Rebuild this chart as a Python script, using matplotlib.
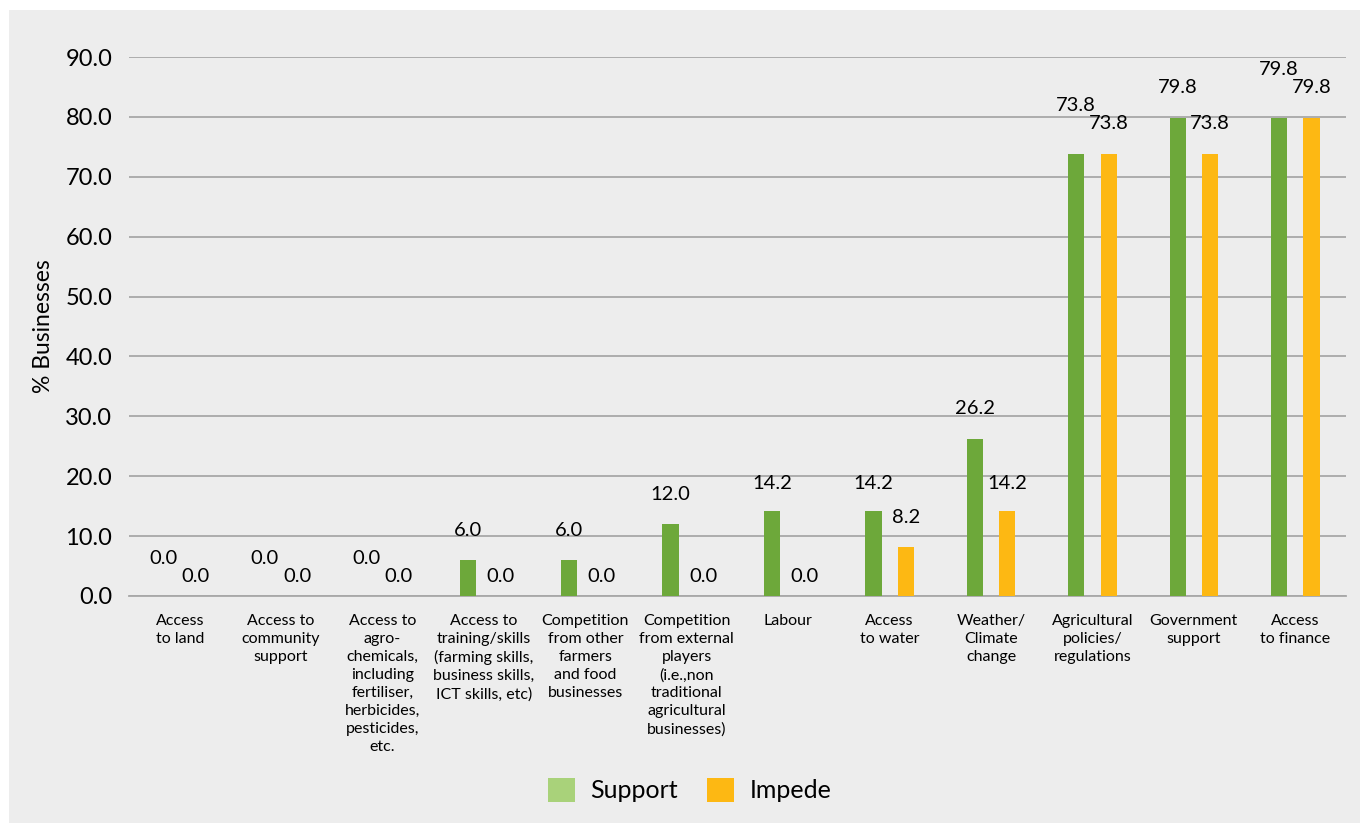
import matplotlib

matplotlib.use("Agg")
import matplotlib.pyplot as plt
import numpy as np
from matplotlib.patches import Patch, Rectangle

categories = [
    "Access\nto land",
    "Access to\ncommunity\nsupport",
    "Access to\nagro-\nchemicals,\nincluding\nfertiliser,\nherbicides,\npesticides,\netc.",
    "Access to\ntraining/skills\n(farming skills,\nbusiness skills,\nICT skills, etc)",
    "Competition\nfrom other\nfarmers\nand food\nbusinesses",
    "Competition\nfrom external\nplayers\n(i.e.,non\ntraditional\nagricultural\nbusinesses)",
    "Labour",
    "Access\nto water",
    "Weather/\nClimate\nchange",
    "Agricultural\npolicies/\nregulations",
    "Government\nsupport",
    "Access\nto finance",
]
support = [0.0, 0.0, 0.0, 6.0, 6.0, 12.0, 14.2, 14.2, 26.2, 73.8, 79.8, 79.8]
impede = [0.0, 0.0, 0.0, 0.0, 0.0, 0.0, 0.0, 8.2, 14.2, 73.8, 73.8, 79.8]
y_ticks = [0, 10, 20, 30, 40, 50, 60, 70, 80, 90]

# how far each value label sits above its bar (points), staggered where labels would collide
support_lift = [27, 27, 27, 21, 21, 21, 20, 20, 22, 35, 22, 35]
impede_lift = [14, 14, 14, 14, 14, 14, 14, 21, 20, 22, 22, 22]

GREEN = "#6da83a"
GREEN_LIGHT = "#a9d27a"
ORANGE = "#fdb813"
BACKGROUND = "#ededed"
GRID = "#a8a8a8"

plt.rcParams["font.family"] = ["Lato", "DejaVu Sans"]

figure = plt.figure(figsize=(13.6, 8.23), dpi=100)
figure.patch.set_facecolor("white")
figure.patches.append(
    Rectangle(
        (9 / 1360, 0), 1, 1 - 10 / 823,
        transform=figure.transFigure, facecolor=BACKGROUND, edgecolor="none", zorder=-10,
    )
)
axis = figure.add_axes([129 / 1360, 1 - 596 / 823, (1346 - 129) / 1360, (596 - 57) / 823])
axis.set_facecolor(BACKGROUND)

x = np.arange(len(categories))
width = 0.16
support_bars = axis.bar(x - width, support, width, color=GREEN, zorder=3)
impede_bars = axis.bar(x + width, impede, width, color=ORANGE, zorder=3)

for bars, lifts in ((support_bars, support_lift), (impede_bars, impede_lift)):
    for bar, lift in zip(bars, lifts):
        axis.annotate(
            f"{bar.get_height():.1f}",
            (bar.get_x() + bar.get_width() / 2, bar.get_height()),
            xytext=(0, lift), textcoords="offset points",
            ha="center", va="center", fontsize=14.5, zorder=4,
        )

axis.set_xlim(-0.5, len(categories) - 0.5)
axis.set_ylim(0, 90)
axis.set_yticks(y_ticks)
axis.set_yticklabels([f"{v:.1f}" for v in y_ticks], fontsize=17)
axis.set_xticks(x)
axis.set_xticklabels(categories, fontsize=11.5, va="top", linespacing=1.36)
axis.tick_params(axis="both", length=0)
axis.tick_params(axis="y", pad=12)
axis.tick_params(axis="x", pad=13)
axis.yaxis.grid(True, color=GRID, linewidth=1.3, zorder=0)
axis.set_axisbelow(True)
for side in ("top", "right", "left"):
    axis.spines[side].set_visible(False)
axis.spines["bottom"].set_color(GRID)
axis.spines["bottom"].set_linewidth(1.3)
axis.set_ylabel("% Businesses", fontsize=16.5, labelpad=8)

figure.legend(
    handles=[Patch(facecolor=GREEN_LIGHT), Patch(facecolor=ORANGE)],
    labels=["Support", "Impede"],
    loc="center", bbox_to_anchor=(0.507, 1 - 790 / 823),
    ncol=2, frameon=False, fontsize=18,
    handlelength=1.08, handleheight=1.08, handletextpad=0.6, columnspacing=1.2,
)

figure.savefig("out.png", dpi=100, facecolor=figure.get_facecolor())
plt.close(figure)
